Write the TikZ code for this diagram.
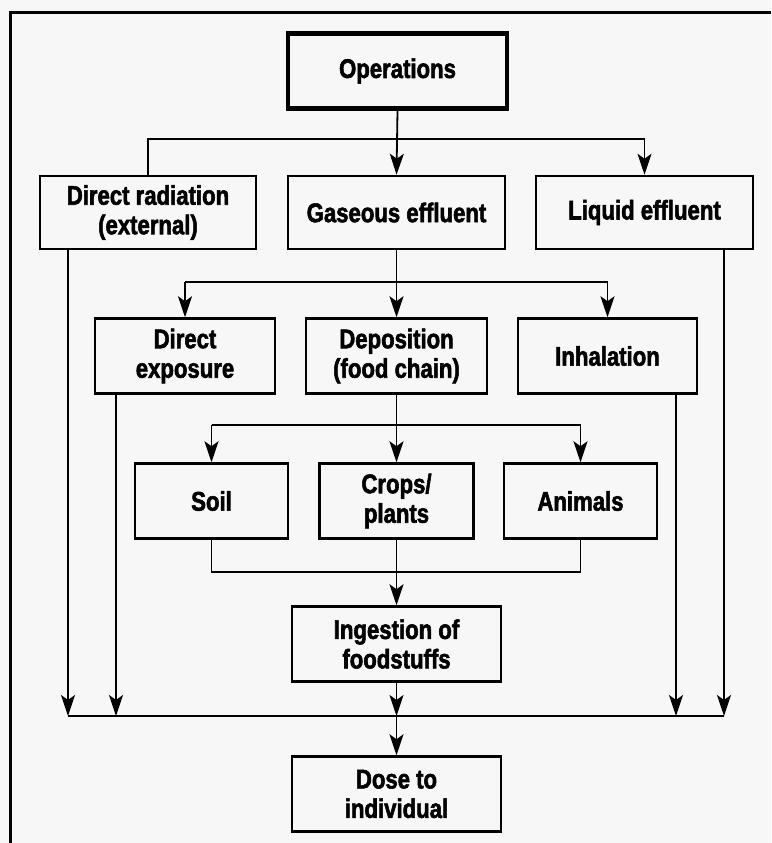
\documentclass[tikz,border=0pt]{standalone}
\usepackage{fontspec}
\newfontfamily\boxfont{Liberation Sans Bold}[FakeStretch=0.82,FakeBold=2]
\usetikzlibrary{arrows.meta}
\definecolor{paper}{RGB}{247,247,247}
\begin{document}
\begin{tikzpicture}[x=1pt,y=-1pt,
  box/.style={draw, rectangle, line width=2.5pt, minimum height=75pt,
    inner sep=0pt, align=center,
    font=\boxfont\fontsize{27}{29.5}\selectfont},
  mainbox/.style={box, line width=4.5pt},
  link/.style={line width=1.8pt},
  arr/.style={link, -{Stealth[length=21pt,width=14pt,inset=5pt]}},
  frame/.style={line width=3pt}
]
% page and outer frame
\fill[paper] (0,0) rectangle (771,843);
\useasboundingbox (0,0) rectangle (771,843);
\draw[frame] (771,13) -- (10,13) -- (10,843);

% boxes
\node[mainbox, minimum width=219pt] (ops) at (397.5,71) {Operations};

\node[box, minimum width=216pt, minimum height=73pt] (rad) at (148,212.5) {Direct radiation\\(external)};
\node[box, minimum width=217pt, minimum height=73pt] (gas) at (396.5,212.5) {Gaseous effluent};
\node[box, minimum width=217pt, minimum height=73pt] (liq) at (644.5,212.5) {Liquid effluent};

\node[box, minimum width=180pt] (dexp) at (185,356) {Direct\\exposure};
\node[box, minimum width=181pt] (dep) at (396.5,356) {Deposition\\(food chain)};
\node[box, minimum width=179pt] (inh) at (607.5,356) {Inhalation};

\node[box, minimum width=153pt] (soil) at (211.5,501) {Soil};
\node[box, minimum width=154pt] (crops) at (396.5,501) {Crops/\\plants};
\node[box, minimum width=153pt] (anim) at (580.5,501) {Animals};

\node[box, minimum width=209pt] (ing) at (396.5,644) {Ingestion of\\foodstuffs};
\node[box, minimum width=209pt] (dose) at (396.5,794) {Dose to\\individual};

% bus lines
\coordinate (busA) at (396.5,139);
\coordinate (busB) at (396.5,282);
\coordinate (busC) at (396.5,425);
\coordinate (busD) at (396.5,572);
\coordinate (bus) at (396.5,716);
\coordinate (busL1) at (68,716);
\coordinate (busL2) at (116,716);
\coordinate (busR1) at (676,716);
\coordinate (busR2) at (724,716);

% operations fan-out
\draw[arr] (ops.south) -- (gas.north);
\draw[link] (rad.north) |- (busA) -| (liq.north |- busA);
\draw[arr] (liq.north |- busA) -- (liq.north);

% gaseous effluent fan-out
\draw[arr] (gas.south) -- (dep.north);
\draw[link] (dexp.north |- busB) -- (inh.north |- busB);
\draw[arr] (dexp.north |- busB) -- (dexp.north);
\draw[arr] (inh.north |- busB) -- (inh.north);

% deposition fan-out
\draw[arr] (dep.south) -- (crops.north);
\draw[link] (soil.north |- busC) -- (anim.north |- busC);
\draw[arr] (soil.north |- busC) -- (soil.north);
\draw[arr] (anim.north |- busC) -- (anim.north);

% food chain collection
\draw[link] (soil.south) |- (busD) -| (anim.south);
\draw[arr] (crops.south) -- (ing.north);

% pathways to the individual
\draw[link] (busL1) -- (busR2);
\draw[arr] (rad.south -| busL1) -- (busL1);
\draw[arr] (dexp.south -| busL2) -- (busL2);
\draw[arr] (inh.south -| busR1) -- (busR1);
\draw[arr] (liq.south -| busR2) -- (busR2);
\draw[arr] (ing.south) -- (bus);
\draw[arr] (bus) -- (dose.north);
\end{tikzpicture}
\end{document}
